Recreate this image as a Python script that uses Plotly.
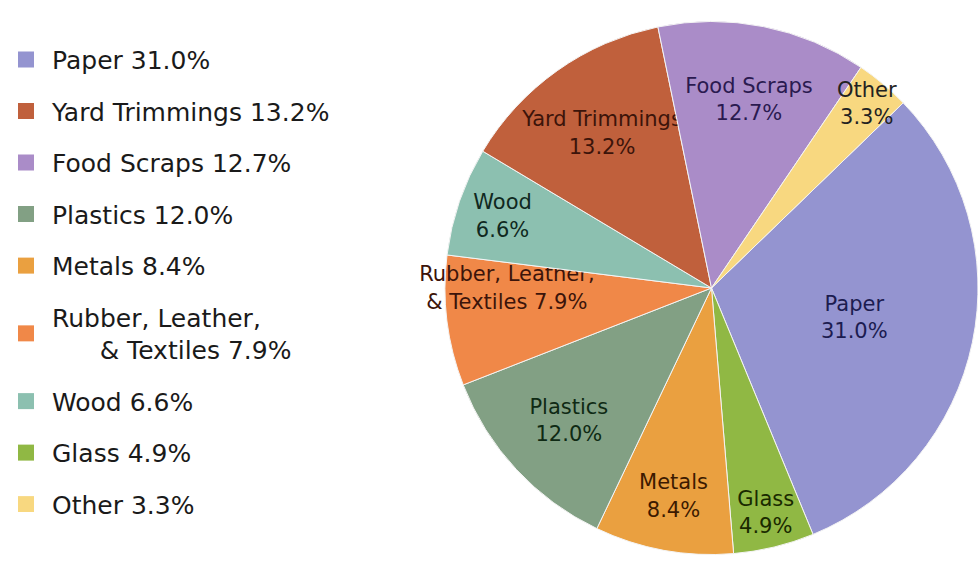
import plotly.graph_objects as go

# ---- data (legend order) ----
categories = ["Paper", "Yard Trimmings", "Food Scraps", "Plastics", "Metals",
              "Rubber, Leather, & Textiles", "Wood", "Glass", "Other"]
shares = [31.0, 13.2, 12.7, 12.0, 8.4, 7.9, 6.6, 4.9, 3.3]
# clockwise order of slices around the pie
pie_order = ["Paper", "Glass", "Metals", "Plastics", "Rubber, Leather, & Textiles",
             "Wood", "Yard Trimmings", "Food Scraps", "Other"]

colors = {
    "Paper": "#9494d0",
    "Yard Trimmings": "#c0603c",
    "Food Scraps": "#aa8cc8",
    "Plastics": "#82a084",
    "Metals": "#eaa040",
    "Rubber, Leather, & Textiles": "#f08848",
    "Wood": "#8cc0b0",
    "Glass": "#90b844",
    "Other": "#f8d880",
}
text_colors = {
    "Paper": "#1c1c50",
    "Yard Trimmings": "#3c140a",
    "Food Scraps": "#2a1a50",
    "Plastics": "#0f2a14",
    "Metals": "#3c1a00",
    "Rubber, Leather, & Textiles": "#3c140a",
    "Wood": "#102820",
    "Glass": "#1a2a00",
    "Other": "#222222",
}

value_of = dict(zip(categories, shares))
FONT = "DejaVu Sans"


def slice_text(name):
    v = value_of[name]
    if name.startswith("Rubber"):
        return f"Rubber, Leather,<br>& Textiles {v:.1f}%"
    return f"{name}<br>{v:.1f}%"


def legend_text(name):
    v = value_of[name]
    if name.startswith("Rubber"):
        return "Rubber, Leather,<br>" + "\u00a0" * 6 + f"& Textiles {v:.1f}%"
    return f"{name} {v:.1f}%"


fig = go.Figure()

fig.add_trace(go.Pie(
    labels=pie_order,
    values=[value_of[n] for n in pie_order],
    text=[slice_text(n) for n in pie_order],
    textinfo="text",
    textposition="inside",
    insidetextorientation="horizontal",
    textfont=dict(family=FONT, size=21, color=[text_colors[n] for n in pie_order]),
    marker=dict(colors=[colors[n] for n in pie_order], line=dict(color="#f4f4f4", width=1)),
    sort=False,
    direction="clockwise",
    rotation=46,
    showlegend=False,
    hoverinfo="label+percent",
    domain=dict(x=[0.455, 1.0], y=[0.0, 1.0]),
))

for i, name in enumerate(categories):
    fig.add_trace(go.Scatter(
        x=[None], y=[None], mode="markers",
        marker=dict(symbol="square", size=16, color=colors[name]),
        name=legend_text(name),
        legendgroup=f"g{i}",
        showlegend=True,
    ))

fig.update_layout(
    margin=dict(l=0, r=0, t=0, b=0),
    paper_bgcolor="white",
    plot_bgcolor="white",
    xaxis=dict(visible=False),
    yaxis=dict(visible=False),
    uniformtext=dict(minsize=21, mode="show"),
    legend=dict(
        x=0.0, y=0.936, xanchor="left", yanchor="top",
        font=dict(family=FONT, size=25, color="#1a1a1a"),
        itemwidth=42,
        tracegroupgap=16,
        bgcolor="rgba(0,0,0,0)",
    ),
)

fig.write_html("out.html")
